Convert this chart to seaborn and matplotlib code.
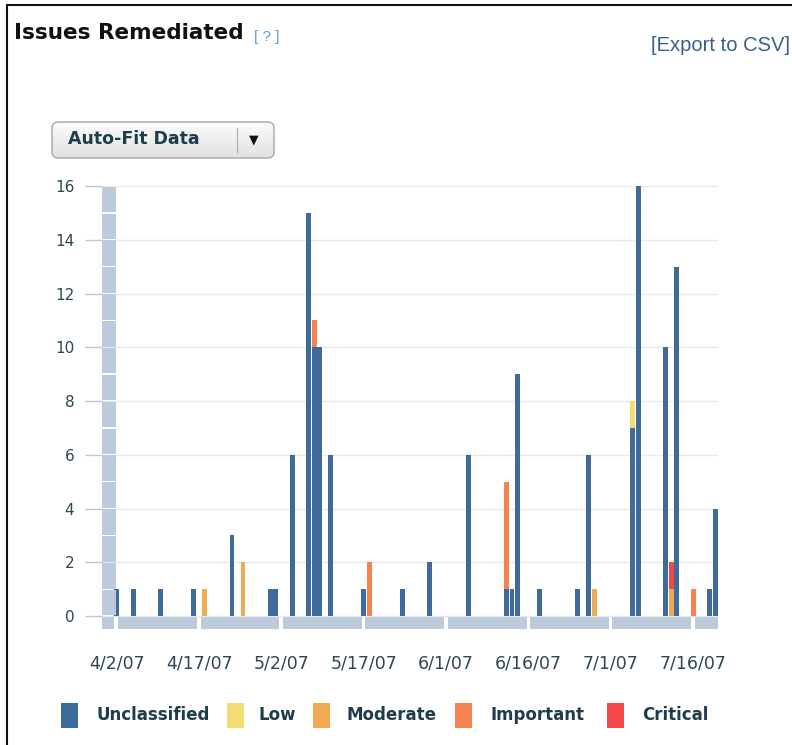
import numpy as np
import pandas as pd
import matplotlib
matplotlib.use("Agg")
import matplotlib.pyplot as plt
from matplotlib.patches import Rectangle, FancyBboxPatch
from matplotlib.lines import Line2D
from matplotlib.colors import LinearSegmentedColormap
import seaborn as sns

# ---------------- data ----------------
dates = ["2007-04-02", "2007-04-05", "2007-04-10", "2007-04-16", "2007-04-18",
         "2007-04-23", "2007-04-25", "2007-04-30", "2007-05-01", "2007-05-04",
         "2007-05-07", "2007-05-08", "2007-05-09", "2007-05-11", "2007-05-17",
         "2007-05-18", "2007-05-24", "2007-05-29", "2007-06-05", "2007-06-12",
         "2007-06-13", "2007-06-14", "2007-06-18", "2007-06-25", "2007-06-27",
         "2007-06-28", "2007-07-05", "2007-07-06", "2007-07-11", "2007-07-12",
         "2007-07-13", "2007-07-16", "2007-07-19", "2007-07-20"]
unclassified = [1, 1, 1, 1, 0, 3, 0, 1, 1, 6, 15, 10, 10, 6, 1, 0, 1, 2, 6, 1,
                1, 9, 1, 1, 6, 0, 7, 16, 10, 0, 13, 0, 1, 4]
low          = [0, 0, 0, 0, 0, 0, 0, 0, 0, 0, 0, 0, 0, 0, 0, 0, 0, 0, 0, 0,
                0, 0, 0, 0, 0, 0, 1, 0, 0, 0, 0, 0, 0, 0]
moderate     = [0, 0, 0, 0, 1, 0, 2, 0, 0, 0, 0, 0, 0, 0, 0, 0, 0, 0, 0, 0,
                0, 0, 0, 0, 0, 1, 0, 0, 0, 1, 0, 0, 0, 0]
important    = [0, 0, 0, 0, 0, 0, 0, 0, 0, 0, 0, 1, 0, 0, 0, 2, 0, 0, 0, 4,
                0, 0, 0, 0, 0, 0, 0, 0, 0, 0, 0, 1, 0, 0]
critical     = [0, 0, 0, 0, 0, 0, 0, 0, 0, 0, 0, 0, 0, 0, 0, 0, 0, 0, 0, 0,
                0, 0, 0, 0, 0, 0, 0, 0, 0, 1, 0, 0, 0, 0]

severities = ["Unclassified", "Low", "Moderate", "Important", "Critical"]
sev_colors = ["#3e6b99", "#f2dc74", "#f0ab52", "#f58352", "#f24848"]

tick_dates = ["2007-04-02", "2007-04-17", "2007-05-02", "2007-05-17",
              "2007-06-01", "2007-06-16", "2007-07-01", "2007-07-16"]
tick_labels = ["4/2/07", "4/17/07", "5/2/07", "5/17/07",
               "6/1/07", "6/16/07", "7/1/07", "7/16/07"]
y_ticks = [0, 2, 4, 6, 8, 10, 12, 14, 16]

# ---------------- setup ----------------
W, H = 792, 745
sns.set_style("white")
plt.rcParams["font.family"] = ["DejaVu Sans"]

fig = plt.figure(figsize=(W / 100, H / 100), dpi=100)


def fx(x):
    return x / W


def fy(y):
    return 1 - y / H


start = pd.Timestamp(tick_dates[0])
day = (pd.to_datetime(dates) - start).days

rows = []
for sev, vals in zip(severities, [unclassified, low, moderate, important, critical]):
    for d, v in zip(day, vals):
        if v:
            rows.append((d, sev, v))
df = pd.DataFrame(rows, columns=["day", "severity", "count"])

ax = fig.add_axes([fx(102), fy(629), fx(718) - fx(102), fy(186) - fy(629)])
sns.histplot(data=df, x="day", weights="count", hue="severity",
             hue_order=severities[::-1],
             palette=dict(zip(severities, sev_colors)),
             multiple="stack", discrete=True, shrink=0.9, alpha=1,
             linewidth=0, legend=False, ax=ax, zorder=2)

x_left, x_right = -2.68, 109.53
ax.set_xlim(x_left, x_right)
ax.set_ylim(-0.48, 16)

strip = "#bccbdb"
# vertical axis strip (segmented)
for k in range(16):
    ax.add_patch(Rectangle((x_left, k + 0.025), 2.55, 0.95, facecolor=strip,
                           edgecolor="none", zorder=4, clip_on=False))
# horizontal axis strip
ax.add_patch(Rectangle((x_left, -0.48), 2.24, 0.43, facecolor=strip,
                       edgecolor="none", zorder=4, clip_on=False))
for k in range(8):
    x0 = 15 * k + 0.3
    x1 = min(15 * (k + 1) - 0.35, x_right)
    ax.add_patch(Rectangle((x0, -0.48), x1 - x0, 0.43, facecolor=strip,
                           edgecolor="none", zorder=4))

ax.set_yticks(y_ticks)
ax.set_yticklabels([str(v) for v in y_ticks])
ax.set_xticks([(pd.Timestamp(d) - start).days for d in tick_dates])
ax.set_xticklabels(tick_labels)
ax.tick_params(axis="y", left=True, length=12, width=1, color="#b8c8d8",
               pad=8, labelsize=11, labelcolor="#2d4652")
ax.tick_params(axis="x", bottom=True, length=0, pad=18, labelsize=12.5,
               labelcolor="#2d4652")
ax.grid(axis="y", color="#e9e9e9", lw=1)
ax.set_axisbelow(True)
for s in ax.spines.values():
    s.set_visible(False)
ax.set_xlabel("")
ax.set_ylabel("")

# ---------------- header ----------------
fig.text(fx(14), fy(39), "Issues Remediated", fontsize=15.5, fontweight="bold",
         color="#111111", va="baseline", ha="left")
fig.text(fx(254), fy(41), "[ ? ]", fontsize=11, color="#5b9bd5",
         va="baseline", ha="left", family=["Liberation Sans"])
fig.text(fx(651), fy(51), "[Export to CSV]", fontsize=14.5, color="#3b5f8e",
         va="baseline", ha="left", family=["Liberation Sans"])

# frame lines
fig.add_artist(Line2D([fx(6.5), fx(6.5)], [fy(5), 0], color="#111111", lw=1.5))
fig.add_artist(Line2D([fx(6.5), 1], [fy(5), fy(5)], color="#111111", lw=1.5))

# ---------------- dropdown button ----------------
bx0, by0, bx1, by1 = 52, 122, 274, 158
btn = FancyBboxPatch((fx(bx0), fy(by1)), fx(bx1) - fx(bx0), fy(by0) - fy(by1),
                     boxstyle="round,pad=0,rounding_size=0.008",
                     transform=fig.transFigure, facecolor="none",
                     edgecolor="#a5a5a5", lw=1, zorder=3)
bax = fig.add_axes([fx(bx0), fy(by1), fx(bx1) - fx(bx0), fy(by0) - fy(by1)])
bax.axis("off")
grad = np.linspace(0, 1, 64)[:, None]
gcmap = LinearSegmentedColormap.from_list("g", ["#fbfbfb", "#e2e2e2"])
im = bax.imshow(grad, cmap=gcmap, aspect="auto", extent=[0, 1, 0, 1],
                origin="upper")
fig.add_artist(btn)
im.set_clip_path(btn)
fig.text(fx(68), fy(144.5), "Auto-Fit Data", fontsize=12.5, fontweight="bold",
         color="#1e3d4a", va="baseline", ha="left")
fig.add_artist(Line2D([fx(237), fx(237)], [fy(128), fy(152)], color="#b5b5b5", lw=1))
fig.text(fx(254), fy(140), "\u25BC", fontsize=9, color="#111111",
         va="center", ha="center")

# ---------------- legend ----------------
patch_x = [61, 227, 313, 455, 607]
text_x = [97, 259, 347, 491, 642]
for sev, col, px, tx in zip(severities, sev_colors, patch_x, text_x):
    fig.add_artist(Rectangle((fx(px), fy(728)), fx(17), 25 / H, facecolor=col,
                             edgecolor="none", transform=fig.transFigure))
    fig.text(fx(tx), fy(720), sev, fontsize=12, fontweight="bold",
             color="#1e3d4a", va="baseline", ha="left")

fig.savefig("out.png", dpi=100)
